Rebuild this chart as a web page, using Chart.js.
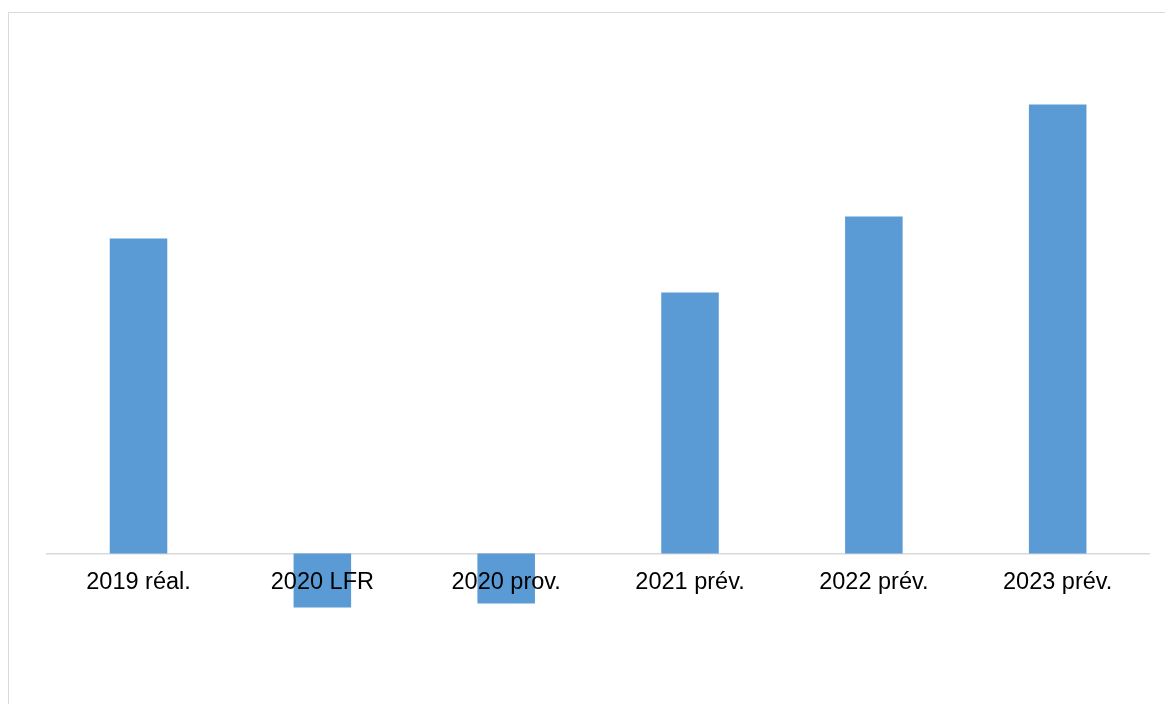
<!DOCTYPE html>
<html>
<head>
<meta charset="utf-8">
<script src="https://cdn.jsdelivr.net/npm/chart.js@4"></script>
<style>
  html, body { margin: 0; padding: 0; background: #fff; }
  #wrap { position: relative; width: 1165px; height: 704px; overflow: hidden; }
  #frame { position: absolute; left: 8px; top: 12px; width: 1200px; height: 760px; border: 1px solid #d9d9d9; }
  #box { position: absolute; left: 0; top: 0; width: 1165px; height: 704px; }
</style>
</head>
<body>
<div id="wrap">
  <div id="frame"></div>
  <div id="box"><canvas id="myChart"></canvas></div>
</div>
<script>
// categories and values
let years = ['2019 réal.', '2020 LFR', '2020 prov.', '2021 prév.', '2022 prév.', '2023 prév.'];
let values = [3.15, -0.54, -0.50, 2.61, 3.37, 4.49];

const ctx = document.getElementById('myChart');

new Chart(ctx, {
    type: 'bar',
    data: {
        labels: years,
        datasets: [{
            data: values,
            backgroundColor: '#5B9BD5',
            borderWidth: 0,
            categoryPercentage: 1,
            barPercentage: 0.313
        }]
    },
    options: {
        responsive: true,
        maintainAspectRatio: false,
        animation: false,
        layout: {
            padding: { left: 46.6, right: 15.4, top: 53.5, bottom: 50.5 }
        },
        plugins: {
            legend: { display: false },
            tooltip: { enabled: false }
        },
        scales: {
            y: {
                display: false,
                min: -1,
                max: 5
            },
            x: {
                position: { y: 0 },
                grid: { display: false, drawTicks: false },
                border: { display: true, color: '#d9d9d9', width: 1.5 },
                ticks: {
                    z: 1,
                    padding: 15,
                    color: '#000',
                    maxRotation: 0,
                    font: { family: '"Liberation Sans", Arial, sans-serif', size: 23.5 }
                }
            }
        }
    }
});
</script>
</body>
</html>
